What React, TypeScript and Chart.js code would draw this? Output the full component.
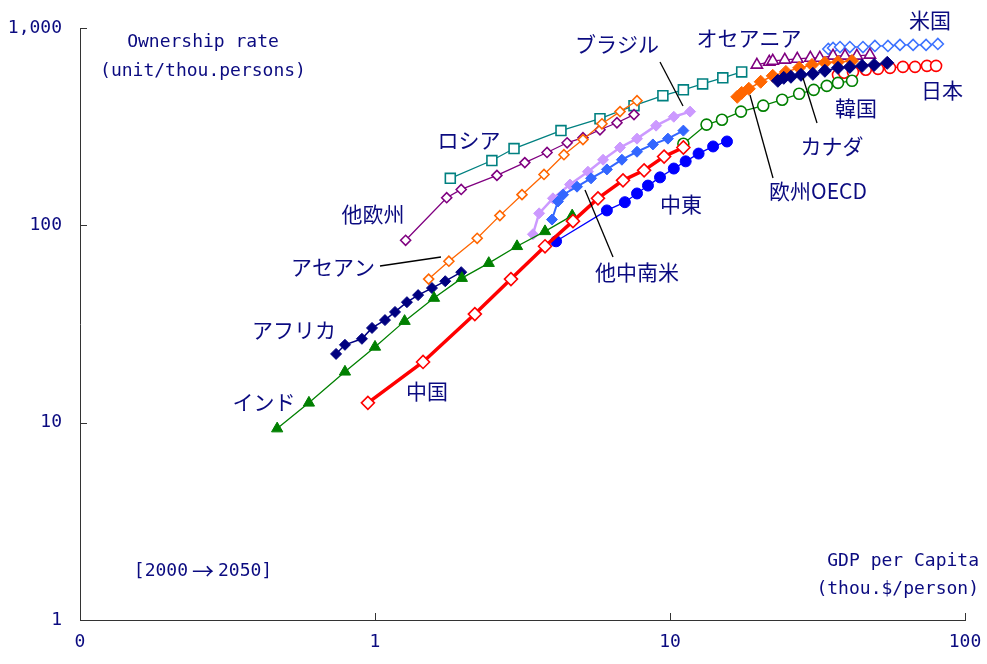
import React, { useEffect, useRef } from 'react';
import Chart from 'chart.js/auto';

// ---- data (GDP per capita [thou.$/person], ownership rate [unit/thou.persons]) 2000 -> 2050 ----
const INDIA_X = [0.466, 0.597, 0.791, 1.0, 1.26, 1.585, 1.97, 2.43, 3.03, 3.77, 4.66];
const INDIA_Y = [9.33, 12.6, 18.1, 24.2, 32.7, 42.8, 54, 64.3, 78.3, 93.2, 112];

const AFRICA_X = [0.738, 0.791, 0.903, 0.977, 1.081, 1.169, 1.283, 1.40, 1.56, 1.73, 1.96];
const AFRICA_Y = [22.3, 24.8, 26.6, 30.2, 33.1, 36.4, 40.8, 44.3, 48.1, 52.1, 57.9];

const CHINA_X = [0.946, 1.455, 2.18, 2.89, 3.77, 4.69, 5.70, 6.93, 8.17, 9.55, 11.1];
const CHINA_Y = [12.6, 20.3, 35.5, 53.4, 78.3, 105, 137, 169, 190, 223, 248];

const MIDEAST_X = [4.11, 6.11, 7.03, 7.73, 8.42, 9.25, 10.3, 11.3, 12.5, 14.0, 15.6];
const MIDEAST_Y = [83, 119, 131, 145, 159, 175, 194, 211, 231, 251, 266];

const LATAM_X = [3.98, 4.17, 4.34, 4.84, 5.40, 6.11, 6.87, 7.73, 8.75, 9.84, 11.1];
const LATAM_Y = [107, 132, 143, 157, 173, 192, 215, 236, 257, 275, 302];

const BRAZIL_X = [3.43, 3.60, 4.01, 4.58, 5.27, 5.93, 6.77, 7.73, 8.97, 10.3, 11.7];
const BRAZIL_Y = [90.1, 115, 137, 161, 187, 215, 248, 275, 320, 355, 377];

const ASEAN_X = [1.52, 1.78, 2.22, 2.65, 3.15, 3.74, 4.37, 5.07, 5.88, 6.77, 7.73];
const ASEAN_Y = [53.4, 65.8, 86, 112, 143, 181, 228, 272, 327, 377, 428];

const OTHEREU_X = [1.27, 1.75, 1.96, 2.59, 3.22, 3.83, 4.48, 5.07, 5.79, 6.61, 7.55];
const OTHEREU_Y = [84, 138, 152, 179, 208, 234, 262, 278, 305, 331, 364];

const RUSSIA_X = [1.80, 2.49, 2.96, 4.27, 5.79, 7.55, 9.46, 11.1, 12.9, 15.1, 17.5];
const RUSSIA_Y = [173, 213, 245, 302, 347, 404, 454, 486, 521, 559, 599];

const EUOECD_X = [11.1, 13.3, 15.0, 17.4, 20.7, 24.0, 27.4, 30.7, 34.0, 37.1, 41.4];
const EUOECD_Y = [259, 324, 343, 377, 404, 433, 464, 486, 509, 527, 540];

const CANADA_X = [16.9, 17.5, 18.5, 20.3, 22.3, 24.7, 27.4, 30.3, 33.5, 37.1, 41.4];
const CANADA_Y = [448, 469, 492, 534, 572, 599, 628, 650, 666, 673, 681];

const KOREA_X = [23.2, 24.3, 25.7, 27.8, 30.5, 33.5, 37.1, 40.7, 44.8, 49.2, 54.5];
const KOREA_Y = [540, 559, 566, 579, 586, 607, 628, 635, 643, 650, 666];

const OCEANIA_X = [19.7, 21.7, 22.3, 24.5, 27.0, 29.9, 32.2, 35.7, 39.2, 43.0, 47.6];
const OCEANIA_Y = [650, 673, 681, 689, 697, 705, 705, 722, 722, 722, 731];

const USA_X = [34.4, 35.7, 37.7, 40.7, 45.1, 49.5, 54.8, 60.2, 66.7, 73.8, 80.9];
const USA_Y = [783, 792, 801, 801, 801, 811, 811, 821, 821, 821, 830];

const JAPAN_X = [37.1, 38.9, 41.7, 46.1, 50.7, 55.7, 61.6, 67.7, 74.3, 79.8];
const JAPAN_Y = [579, 593, 599, 614, 621, 628, 635, 635, 643, 643];

const X_TICKS = [0.1, 1, 10, 100];
const Y_TICKS = [1, 10, 100, 1000];

const NAVY = '#0b0b80';

type Style = {
  color: string;
  fill: boolean;
  shape: string;
  r: number;
  lw: number;
};

const SERIES: { name: string; xs: number[]; ys: number[]; st: Style }[] = [
  { name: '中国', xs: CHINA_X, ys: CHINA_Y, st: { color: '#FF0000', fill: false, shape: 'rectRot', r: 6.5, lw: 3.5 } },
  { name: 'インド', xs: INDIA_X, ys: INDIA_Y, st: { color: '#008000', fill: true, shape: 'triangle', r: 6.5, lw: 1.3 } },
  { name: '中東', xs: MIDEAST_X, ys: MIDEAST_Y, st: { color: '#0000FF', fill: true, shape: 'circle', r: 5.5, lw: 1.3 } },
  { name: '他中南米', xs: LATAM_X, ys: LATAM_Y, st: { color: '#3366FF', fill: true, shape: 'rectRot', r: 5.5, lw: 2 } },
  { name: 'ブラジル', xs: BRAZIL_X, ys: BRAZIL_Y, st: { color: '#CC99FF', fill: true, shape: 'rectRot', r: 5.5, lw: 2.5 } },
  { name: 'アフリカ', xs: AFRICA_X, ys: AFRICA_Y, st: { color: '#000080', fill: true, shape: 'rectRot', r: 5.5, lw: 1.5 } },
  { name: 'アセアン', xs: ASEAN_X, ys: ASEAN_Y, st: { color: '#FF6600', fill: false, shape: 'rectRot', r: 5, lw: 1.3 } },
  { name: '他欧州', xs: OTHEREU_X, ys: OTHEREU_Y, st: { color: '#800080', fill: false, shape: 'rectRot', r: 5, lw: 1.3 } },
  { name: 'ロシア', xs: RUSSIA_X, ys: RUSSIA_Y, st: { color: '#008080', fill: false, shape: 'rect', r: 7, lw: 1.3 } },
  { name: '欧州OECD', xs: EUOECD_X, ys: EUOECD_Y, st: { color: '#008000', fill: false, shape: 'circle', r: 5.5, lw: 1.3 } },
  { name: '韓国', xs: KOREA_X, ys: KOREA_Y, st: { color: '#000080', fill: true, shape: 'rectRot', r: 6.5, lw: 1.5 } },
  { name: 'カナダ', xs: CANADA_X, ys: CANADA_Y, st: { color: '#FF6600', fill: true, shape: 'rectRot', r: 6.5, lw: 1.5 } },
  { name: 'オセアニア', xs: OCEANIA_X, ys: OCEANIA_Y, st: { color: '#800080', fill: false, shape: 'triangle', r: 6.5, lw: 1.3 } },
  { name: '米国', xs: USA_X, ys: USA_Y, st: { color: '#3D73FF', fill: false, shape: 'rectRot', r: 5.5, lw: 1.3 } },
  { name: '日本', xs: JAPAN_X, ys: JAPAN_Y, st: { color: '#FF0000', fill: false, shape: 'circle', r: 5.5, lw: 1.3 } },
];

// annotation texts (canvas pixel positions)
const LABELS: [string, number, number][] = [
  ['米国', 930, 20],
  ['オセアニア', 749, 38],
  ['ブラジル', 617, 44],
  ['日本', 942, 90],
  ['韓国', 856, 108],
  ['ロシア', 469, 140],
  ['カナダ', 832, 146],
  ['欧州OECD', 818, 191],
  ['中東', 681, 204],
  ['他欧州', 373, 214],
  ['アセアン', 333, 267],
  ['他中南米', 637, 272],
  ['アフリカ', 294, 330],
  ['インド', 264, 402],
  ['中国', 427, 391],
];

const LEADERS: [number, number, number, number][] = [
  [380, 266, 441, 257],
  [660, 62, 683, 106],
  [585, 190, 613, 257],
  [750, 95, 773, 178],
  [803, 78, 817, 123],
];

const AXIS_TEXTS: [string, number, number, CanvasTextAlign][] = [
  ['Ownership rate', 203, 42, 'center'],
  ['(unit/thou.persons)', 203, 71, 'center'],
  ['GDP per Capita', 979, 561, 'right'],
  ['(thou.$/person)', 979, 589, 'right'],
];

const PERIOD_START = '[2000';
const PERIOD_ARROW = '→';
const PERIOD_END = '2050]';

const MONO = '"DejaVu Sans Mono", monospace';
const JP = '"Noto Sans CJK JP", sans-serif';

const annotationPlugin = {
  id: 'annots',
  afterDatasetsDraw(chart: any) {
    const ctx = chart.ctx;
    ctx.save();
    ctx.strokeStyle = '#000000';
    ctx.lineWidth = 1.3;
    for (const [x1, y1, x2, y2] of LEADERS) {
      ctx.beginPath();
      ctx.moveTo(x1, y1);
      ctx.lineTo(x2, y2);
      ctx.stroke();
    }
    ctx.fillStyle = NAVY;
    ctx.textBaseline = 'middle';
    ctx.textAlign = 'center';
    ctx.font = `21px ${JP}`;
    for (const [t, x, y] of LABELS) ctx.fillText(t, x, y);
    ctx.font = `18px ${MONO}`;
    for (const [t, x, y, a] of AXIS_TEXTS) {
      ctx.textAlign = a;
      ctx.fillText(t, x, y);
    }
    // period text: mono pieces with a full-width arrow
    ctx.textAlign = 'left';
    ctx.font = `18px ${MONO}`;
    const w1 = ctx.measureText(PERIOD_START).width;
    const w3 = ctx.measureText(PERIOD_END).width;
    ctx.font = `22px ${JP}`;
    const w2 = ctx.measureText(PERIOD_ARROW).width + 8;
    const total = w1 + w2 + w3;
    let px = 203 - total / 2;
    const py = 571;
    ctx.font = `18px ${MONO}`;
    ctx.fillText(PERIOD_START, px, py);
    px += w1;
    ctx.font = `22px ${JP}`;
    ctx.fillText(PERIOD_ARROW, px + 4, py);
    px += w2;
    ctx.font = `18px ${MONO}`;
    ctx.fillText(PERIOD_END, px, py);
    ctx.restore();
  },
  afterDraw(chart: any) {
    const ctx = chart.ctx;
    const xs = chart.scales.x;
    const ys = chart.scales.y;
    const { left, bottom } = chart.chartArea;
    ctx.save();
    ctx.strokeStyle = '#333333';
    ctx.lineWidth = 1;
    ctx.beginPath();
    for (const v of X_TICKS.slice(1)) {
      const px = Math.round(xs.getPixelForValue(v)) + 0.5;
      ctx.moveTo(px, bottom);
      ctx.lineTo(px, bottom - 7);
    }
    for (const v of Y_TICKS.slice(1)) {
      const py = Math.round(ys.getPixelForValue(v)) + 0.5;
      ctx.moveTo(left, py);
      ctx.lineTo(left + 7, py);
    }
    ctx.stroke();
    ctx.restore();
  },
};

export default function App() {
  const ref = useRef<HTMLCanvasElement>(null);
  useEffect(() => {
    if (!ref.current) return;
    const datasets = SERIES.map((s) => ({
      label: s.name,
      data: s.xs.map((x, i) => ({ x, y: s.ys[i] })),
      showLine: true,
      borderColor: s.st.color,
      borderWidth: s.st.lw,
      pointStyle: s.st.shape,
      pointRadius: s.st.r,
      pointBackgroundColor: s.st.fill ? s.st.color : '#FFFFFF',
      pointBorderColor: s.st.color,
      pointBorderWidth: s.st.fill ? 1 : 1.6,
      backgroundColor: s.st.color,
      fill: false,
      tension: 0,
    }));
    const chart = new Chart(ref.current, {
      type: 'scatter',
      data: { datasets },
      options: {
        animation: false,
        responsive: false,
        maintainAspectRatio: false,
        layout: { padding: { top: 28, right: 22, left: 0, bottom: 0 } },
        plugins: { legend: { display: false }, tooltip: { enabled: false } },
        scales: {
          x: {
            type: 'logarithmic',
            min: 0.1,
            max: 100,
            afterFit: (s: any) => {
              s.height = 44;
              s.paddingLeft = 0;
              s.paddingRight = 0;
            },
            afterBuildTicks: (s: any) => { s.ticks = X_TICKS.map((v) => ({ value: v })); },
            ticks: {
              autoSkip: false,
              maxRotation: 0,
              padding: 12,
              color: NAVY,
              font: { family: MONO, size: 18 },
              callback: (v: any) => (v < 1 ? '0' : String(v)),
            },
            grid: { display: false, drawTicks: false },
            border: { display: true, color: '#333333', width: 1 },
          },
          y: {
            type: 'logarithmic',
            min: 1,
            max: 1000,
            afterFit: (s: any) => {
              s.width = 80;
              s.paddingTop = 0;
              s.paddingBottom = 0;
            },
            afterBuildTicks: (s: any) => { s.ticks = Y_TICKS.map((v) => ({ value: v })); },
            ticks: {
              autoSkip: false,
              padding: 18,
              color: NAVY,
              font: { family: MONO, size: 18 },
              callback: (v: any) => (v >= 1000 ? '1,000' : String(v)),
            },
            grid: { display: false, drawTicks: false },
            border: { display: true, color: '#333333', width: 1 },
          },
        },
      },
      plugins: [annotationPlugin],
    });
    return () => chart.destroy();
  }, []);
  return (
    <div style={{ position: 'fixed', left: 0, top: 0, width: 987, height: 664, background: '#fff' }}>
      <canvas ref={ref} width={987} height={664} style={{ width: 987, height: 664, display: 'block' }} />
    </div>
  );
}
